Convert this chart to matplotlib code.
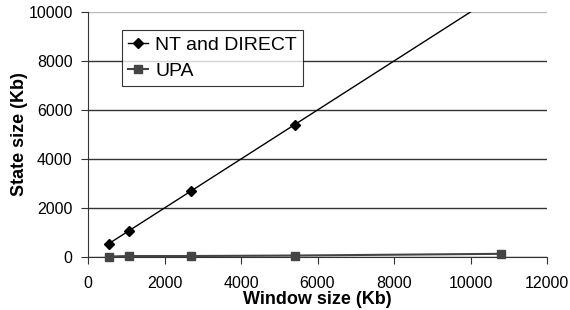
import numpy as np
import matplotlib
matplotlib.use("Agg")
from matplotlib import pyplot as plt

window_kb = [540, 1080, 2700, 5400, 10800]
nt_direct = [540, 1080, 2700, 5400, 10800]
upa = [20, 40, 40, 60, 130]

plt.rcParams['font.family'] = ['Liberation Sans', 'DejaVu Sans']

fig = plt.figure(figsize=(5.7, 3.1), dpi=100)
ax = fig.add_axes([88 / 570, 1 - 257 / 310, 459 / 570, 245 / 310])

ax.plot(window_kb, nt_direct, color='black', lw=1.0, marker='D', ms=5,
        label='NT and DIRECT', clip_on=True)
ax.plot(window_kb, upa, color='#444444', lw=1.5, marker='s', ms=5.5,
        label='UPA', clip_on=False, zorder=3)

ax.set_xlim(0, 12000)
ax.set_ylim(0, 10000)
ax.set_xticks(np.arange(0, 12001, 2000))
ax.set_yticks(np.arange(0, 10001, 2000))
ax.grid(axis='y', color='#333333', lw=1.0)
ax.set_axisbelow(True)
ax.get_ygridlines()[-1].set_color('#bbbbbb')

for s in ['top', 'right']:
    ax.spines[s].set_visible(False)
ax.spines['left'].set_color('#333333')
ax.spines['bottom'].set_color('#333333')
ax.tick_params(axis='both', direction='out', length=5, color='#333333',
               labelsize=11.5)
ax.tick_params(axis='y', pad=6)
ax.tick_params(axis='x', pad=9)

ax.set_xlabel('Window size (Kb)', fontsize=13, fontweight='bold', labelpad=0)
ax.set_ylabel('State size (Kb)', fontsize=13, fontweight='bold', labelpad=0)

leg = ax.legend(loc='upper left', bbox_to_anchor=(0.075, 0.925), fontsize=14,
                frameon=True, fancybox=False, edgecolor='black',
                handlelength=1.0, handletextpad=0.4, borderpad=0.3,
                borderaxespad=0, labelspacing=0.45)
leg.get_frame().set_linewidth(0.8)

fig.savefig('out.png', dpi=100)
